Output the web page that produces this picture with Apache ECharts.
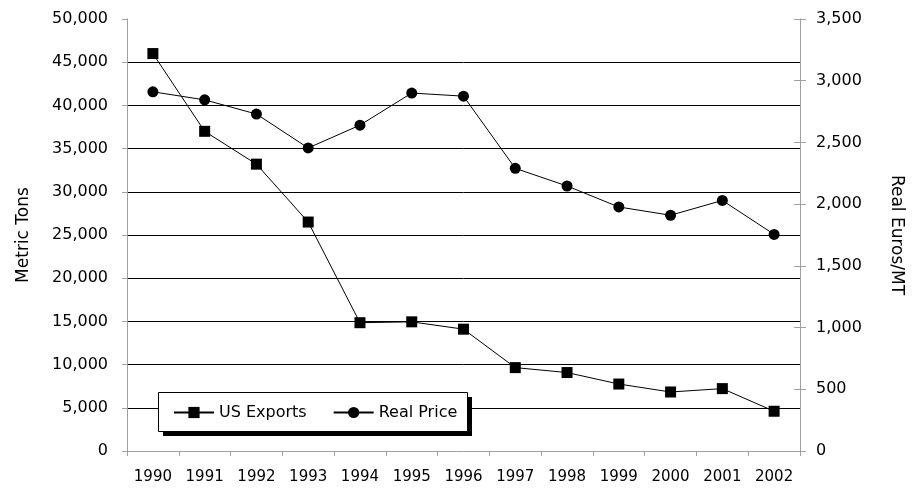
<!DOCTYPE html>
<html>
<head>
<meta charset="utf-8">
<script src="https://cdn.jsdelivr.net/npm/echarts@6/dist/echarts.min.js"></script>
<style>html,body{margin:0;padding:0;background:#fff}#c{width:913px;height:489px}</style>
</head>
<body>
<div id="c"></div>
<script>
var years = ['1990','1991','1992','1993','1994','1995','1996','1997','1998','1999','2000','2001','2002'];
var usExports = [46000, 37000, 33200, 26500, 14850, 14950, 14100, 9650, 9080, 7750, 6830, 7220, 4600];
var realPrice = [2910, 2845, 2730, 2455, 2640, 2900, 2875, 2290, 2147, 1977, 1910, 2030, 1755];
var seriesNames = ['US Exports', 'Real Price'];
var leftAxisName = 'Metric Tons';
var rightAxisName = 'Real Euros/MT';

var FONT = 'DejaVu Sans';
var grey = '#a0a0a0';
var chart = echarts.init(document.getElementById('c'), null, {renderer: 'canvas'});
function fmt(v){ return v.toLocaleString('en-US'); }
chart.setOption({
  animation: false,
  backgroundColor: '#fff',
  grid: {left: 127, right: 111, top: 19, bottom: 38},
  graphic: [
    {type: 'rect', z: 3, shape: {x: 163, y: 397, width: 309, height: 39}, style: {fill: '#000'}},
    {type: 'rect', z: 3, shape: {x: 158.5, y: 392.5, width: 309, height: 39}, style: {fill: '#fff', stroke: '#000', lineWidth: 1}}
  ],
  legend: {
    z: 10,
    left: 173, top: 404.5,
    padding: 0,
    itemWidth: 40, itemHeight: 14, itemGap: 26,
    textStyle: {fontFamily: FONT, fontSize: 16, color: '#000'},
    data: seriesNames
  },
  xAxis: {
    type: 'category', data: years, boundaryGap: true,
    axisLine: {lineStyle: {color: grey, width: 1}},
    axisTick: {show: true, length: 5, lineStyle: {color: grey}},
    axisLabel: {fontFamily: FONT, fontSize: 15, color: '#000', margin: 19}
  },
  yAxis: [{
    type: 'value', min: 0, max: 50000, interval: 5000, position: 'left',
    name: leftAxisName, nameLocation: 'middle', nameGap: 95, nameRotate: 90,
    nameTextStyle: {fontFamily: FONT, fontSize: 17, color: '#000'},
    axisLine: {show: true, lineStyle: {color: grey}},
    axisTick: {show: true, length: 5, lineStyle: {color: grey}},
    axisLabel: {fontFamily: FONT, fontSize: 16, color: '#000', margin: 19, formatter: fmt},
    splitLine: {show: true, showMinLine: false, showMaxLine: false, lineStyle: {color: '#000', width: 1}}
  }, {
    type: 'value', min: 0, max: 3500, interval: 500, position: 'right',
    name: rightAxisName, nameLocation: 'middle', nameGap: 88, nameRotate: -90,
    nameTextStyle: {fontFamily: FONT, fontSize: 17, color: '#000'},
    axisLine: {show: true, lineStyle: {color: grey}},
    axisTick: {show: true, length: 6, lineStyle: {color: grey}},
    axisLabel: {fontFamily: FONT, fontSize: 16, color: '#000', margin: 16, formatter: fmt},
    splitLine: {show: false}
  }, {
    type: 'value', min: 0, max: 3500, interval: 500, position: 'right',
    axisLine: {show: false},
    axisTick: {show: true, inside: true, length: 6, lineStyle: {color: grey}},
    axisLabel: {show: false},
    splitLine: {show: false}
  }],
  series: [{
    name: seriesNames[0], type: 'line', yAxisIndex: 0, data: usExports,
    symbol: 'rect', symbolSize: 11,
    lineStyle: {color: '#000', width: 1},
    itemStyle: {color: '#000'}
  }, {
    name: seriesNames[1], type: 'line', yAxisIndex: 1, data: realPrice,
    symbol: 'circle', symbolSize: 11,
    lineStyle: {color: '#000', width: 1},
    itemStyle: {color: '#000'}
  }]
});
</script>
</body>
</html>
